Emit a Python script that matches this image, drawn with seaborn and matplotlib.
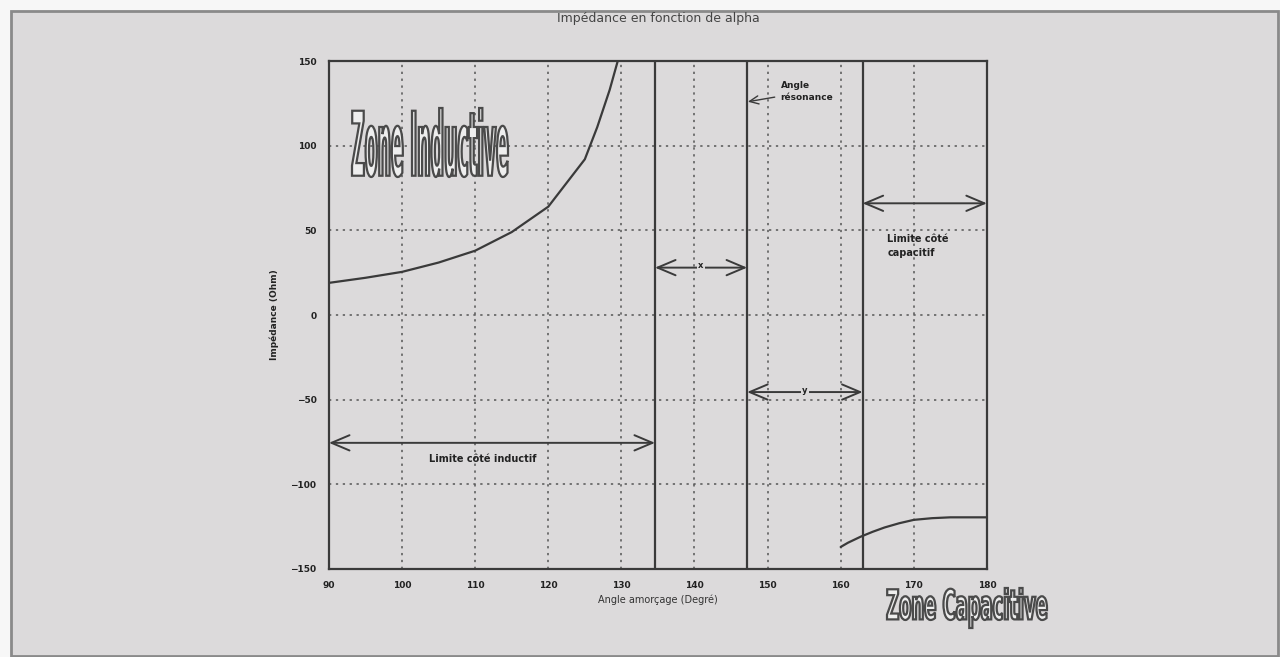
import matplotlib
matplotlib.use("Agg")
import matplotlib.pyplot as plt
import seaborn as sns
import pandas as pd
from matplotlib.textpath import TextPath
from matplotlib.patches import PathPatch, Rectangle
from matplotlib.font_manager import FontProperties
from matplotlib.transforms import Affine2D, IdentityTransform

# donnees
alpha_ind = [90, 95, 100, 105, 110, 115, 120, 125, 126.7, 128.4, 129.5]
z_ind = [19, 22, 25.5, 31, 38, 49, 64, 92, 111, 133, 150]

alpha_cap = [160, 161, 162.7, 164.4, 166, 168, 170, 172.5, 175, 180]
z_cap = [-137, -134.5, -131, -128, -125.5, -123, -121, -120, -119.5, -119.5]

x_lim_ind = 134.6
x_res = 147.2
x_lim_cap = 163.0

x_ticks = [90, 100, 110, 120, 130, 140, 150, 160, 170, 180]
y_ticks = [-150, -100, -50, 0, 50, 100, 150]

bg = "#dcdadb"
ink = "#3a3a3a"

sns.set_style("white")
plt.rcParams['font.family'] = ['DejaVu Sans']

fig = plt.figure(figsize=(12.8, 6.57), dpi=100, facecolor="#f7f7f7")
# cadre du scan
fig.patches.append(Rectangle((11, 1), 1267, 645, transform=IdentityTransform(),
                             fc=bg, ec="#8a8a8a", lw=2, figure=fig, zorder=-10))

ax = fig.add_axes([0.257, 0.134, 0.514, 0.773])
ax.set_facecolor(bg)

df_ind = pd.DataFrame({"alpha": alpha_ind, "Z": z_ind})
df_cap = pd.DataFrame({"alpha": alpha_cap, "Z": z_cap})
sns.lineplot(data=df_ind, x="alpha", y="Z", ax=ax, color=ink, lw=1.6)
sns.lineplot(data=df_cap, x="alpha", y="Z", ax=ax, color=ink, lw=1.6)

for xv in [x_lim_ind, x_res, x_lim_cap]:
    ax.axvline(xv, color=ink, lw=1.6)

ax.set_xlim(90, 180)
ax.set_ylim(-150, 150)
ax.set_xticks(x_ticks)
ax.set_yticks(y_ticks)
ax.grid(True, linestyle=(0, (1.5, 3)), color="#555555", lw=1.1)
for s in ax.spines.values():
    s.set_color(ink)
    s.set_linewidth(1.6)
ax.tick_params(direction="in", length=3, color=ink, labelsize=6.5, labelcolor="#222222", pad=9)
for lab in ax.get_xticklabels() + ax.get_yticklabels():
    lab.set_fontweight("bold")

ax.set_title("Impédance en fonction de alpha", fontsize=9, color="#444444", pad=28)
ax.set_xlabel("Angle amorçage (Degré)", fontsize=7, color="#333333", labelpad=3)
ax.set_ylabel("Impédance (Ohm)", fontsize=6.5, color="#222222", fontweight="bold", labelpad=8)

arrow = dict(arrowstyle="<->,head_length=1.3,head_width=0.55", color=ink, lw=1.4,
             shrinkA=0, shrinkB=0)

ax.annotate("", xy=(90, -75.5), xytext=(x_lim_ind, -75.5), arrowprops=arrow)
ax.text(111, -85, "Limite côté inductif", fontsize=7, fontweight="bold", ha="center",
        va="center", color="#222222")

ax.annotate("", xy=(x_lim_ind, 28), xytext=(x_res, 28), arrowprops=arrow)
ax.text((x_lim_ind + x_res) / 2, 29, "x", fontsize=6, fontweight="bold", ha="center",
        va="center", color="#222222", bbox=dict(fc=bg, ec="none", pad=1))

ax.annotate("", xy=(x_res, -45.5), xytext=(x_lim_cap, -45.5), arrowprops=arrow)
ax.text((x_res + x_lim_cap) / 2, -44.5, "y", fontsize=6, fontweight="bold", ha="center",
        va="center", color="#222222", bbox=dict(fc=bg, ec="none", pad=1))

ax.annotate("", xy=(x_lim_cap, 66), xytext=(180, 66), arrowprops=arrow)
ax.text(166.4, 41, "Limite côté\ncapacitif", fontsize=7, fontweight="bold", ha="left",
        va="center", color="#222222", linespacing=1.5)

ax.annotate("Angle\nrésonance", xy=(x_res + 0.1, 126), xytext=(151.8, 132),
            fontsize=6.5, fontweight="bold", color="#222222", va="center",
            linespacing=1.5,
            arrowprops=dict(arrowstyle="->,head_length=1.0,head_width=0.45", color=ink,
                            lw=1.0, shrinkA=2, shrinkB=0))


def outlined_word(text, x0, y0, x1, y1):
    # texte en relief, comprime dans une boite donnee en pixels (origine en haut)
    tp = TextPath((0, 0), text, size=10, prop=FontProperties(family="DejaVu Sans", weight="bold"))
    ext = tp.get_extents()
    h_img = 657
    sx = (x1 - x0) / ext.width
    sy = (y1 - y0) / ext.height
    tr = Affine2D().translate(-ext.x0, -ext.y0).scale(sx, sy).translate(x0, h_img - y1)
    path = tr.transform_path(tp)
    fig.patches.append(PathPatch(path, transform=IdentityTransform(), fc="#eeeeee",
                                 ec="#4a4a4a", lw=1.6, figure=fig))


outlined_word("Zone Inductive", 352, 108, 508, 177)
outlined_word("Zone Capacitive", 887, 588, 1047, 628)

fig.savefig("out.png", dpi=100, facecolor=fig.get_facecolor())
